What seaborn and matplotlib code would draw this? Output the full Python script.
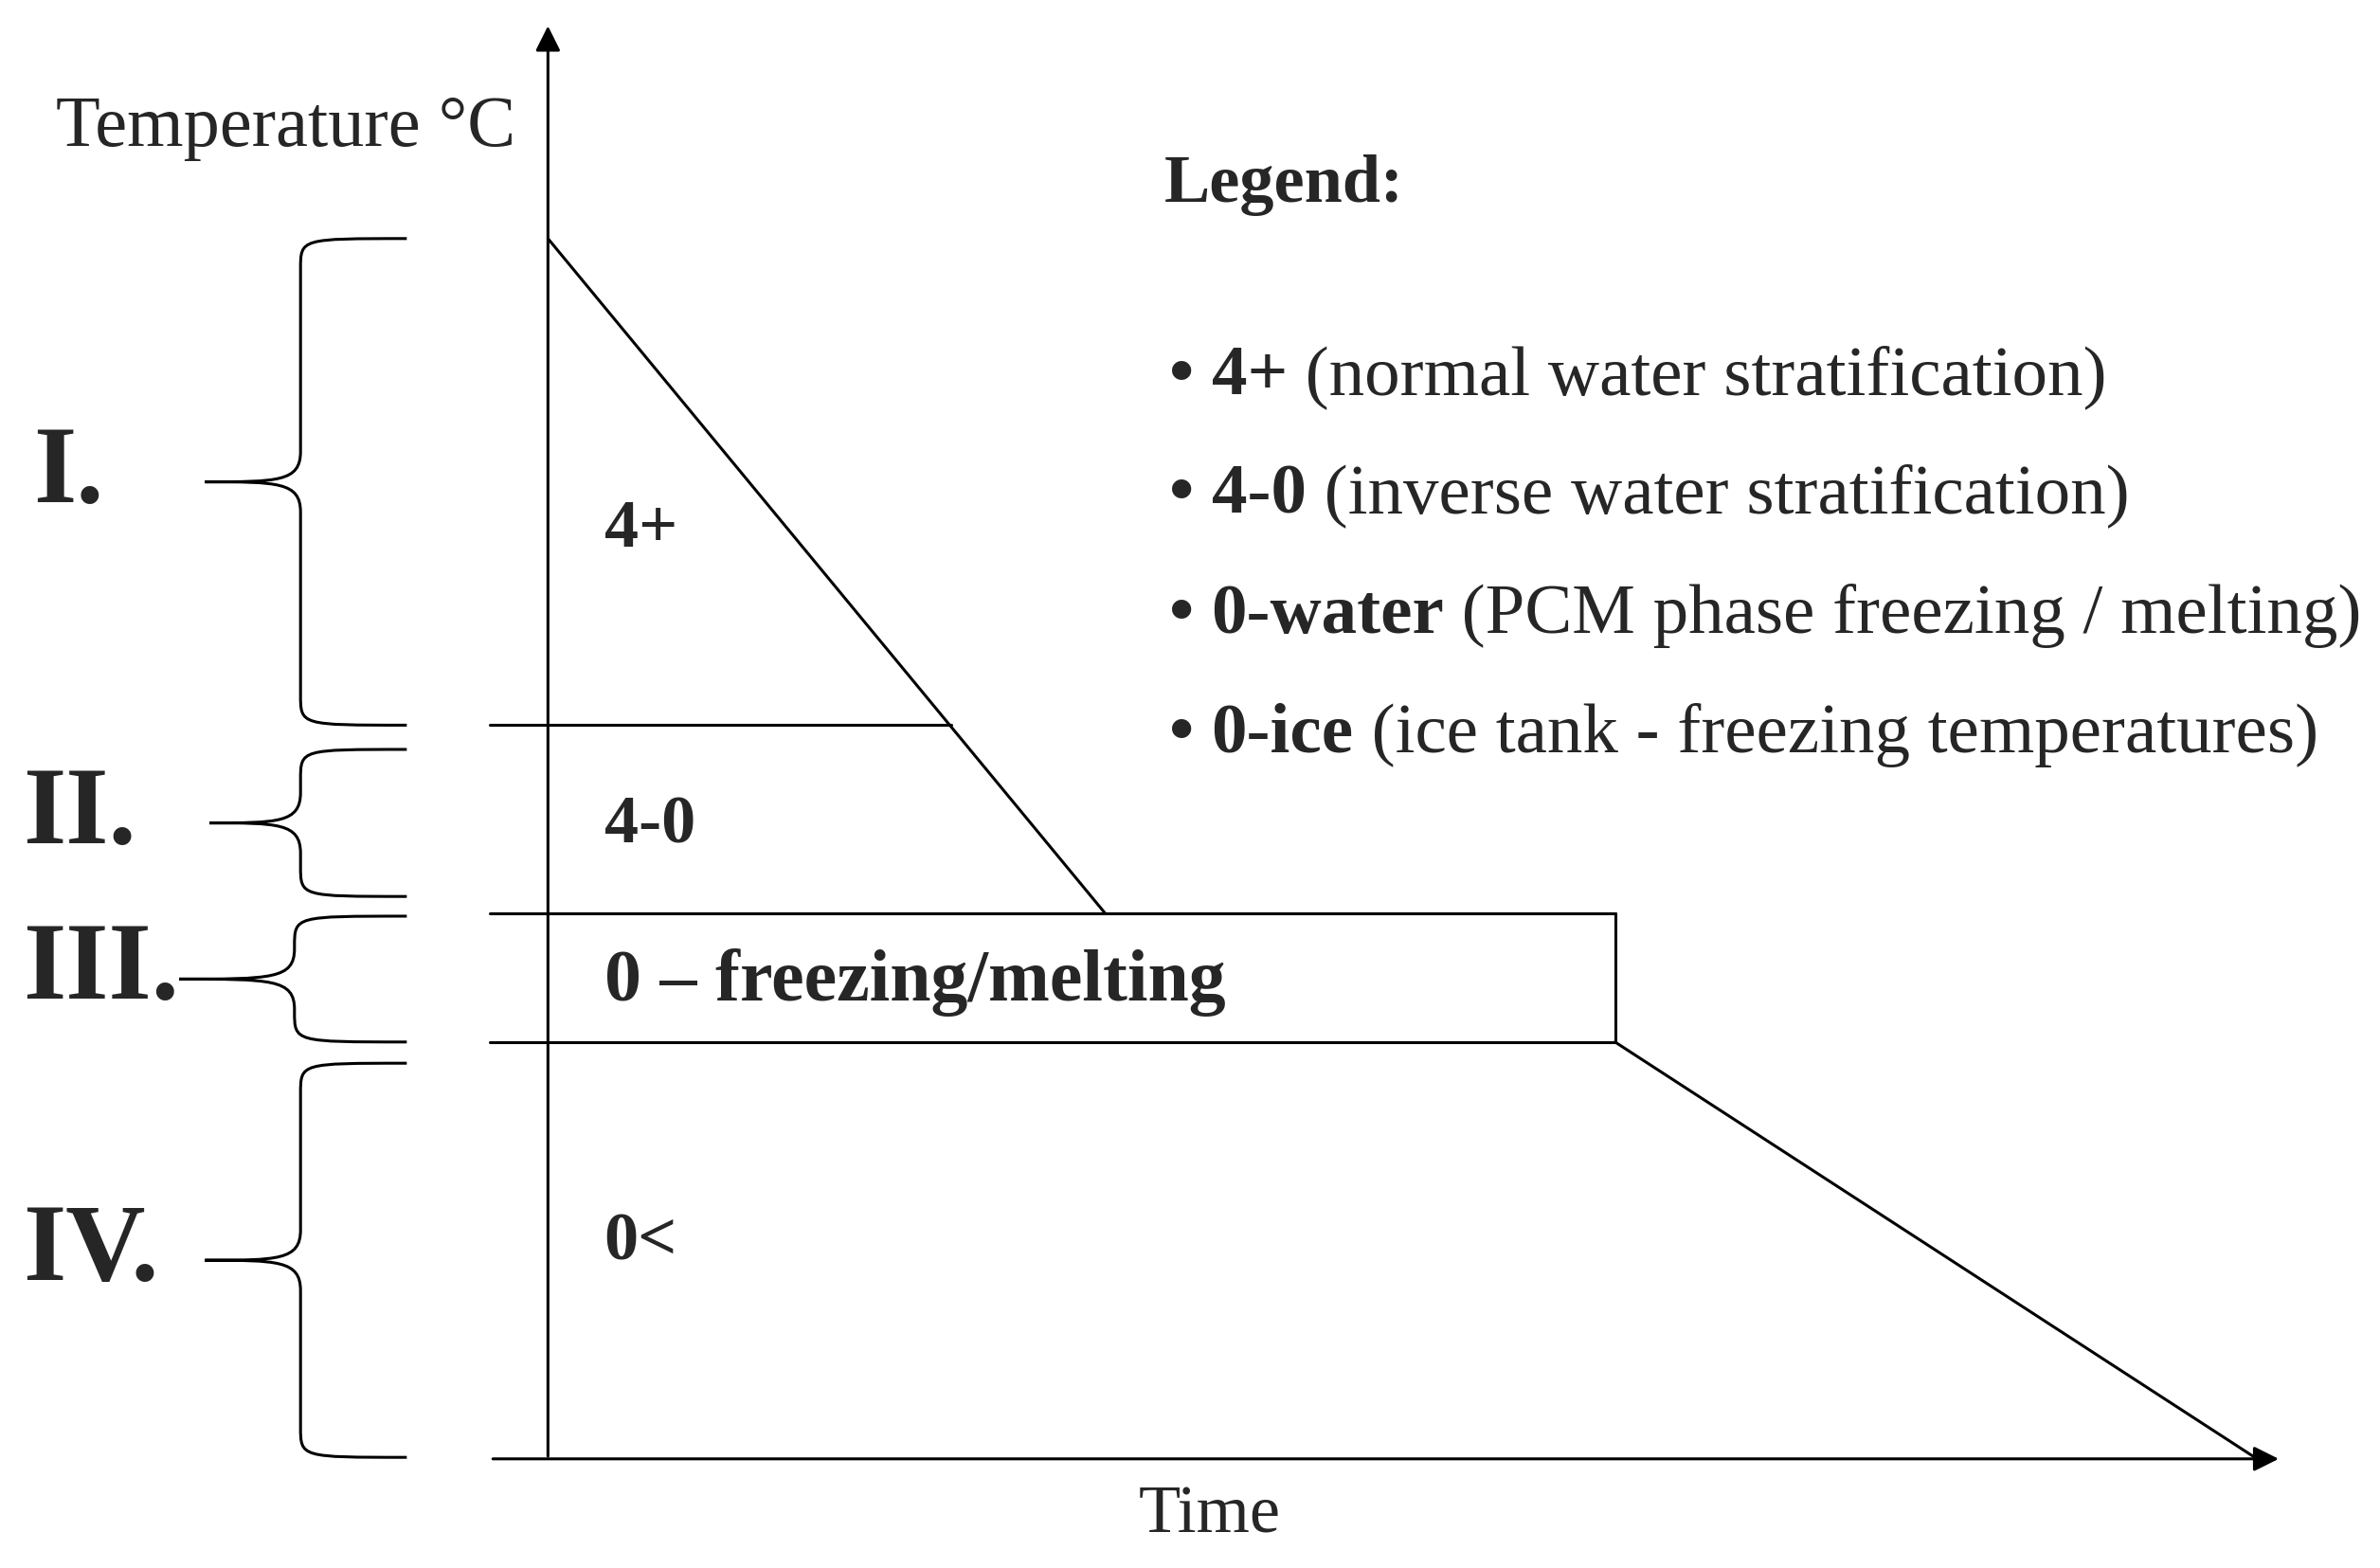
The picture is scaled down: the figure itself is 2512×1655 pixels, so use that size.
import matplotlib
matplotlib.use('Agg')
import matplotlib.pyplot as plt
import seaborn as sns
import pandas as pd
from matplotlib.path import Path
from matplotlib.patches import PathPatch, FancyArrowPatch

sns.set_theme(style='white')
plt.rcParams['font.family'] = ['Liberation Serif', 'DejaVu Serif']

# Diagram geometry in reference pixel units (x: time, y: temperature, inverted)
curve_time = [361, 728, 1064, 1487]
curve_temp = [158, 603, 688, 963]
band_levels = [479, 603, 688]
band_ends = [627, 1064, 1064]
band_start = 323

zone_labels = ['I.', 'II.', 'III.', 'IV.']
zone_top = [158, 495, 605, 702]
zone_bottom = [479, 592, 688, 962]
zone_tip_x = [135, 138, 118, 135]
zone_label_x = [22, 15, 15, 15]

region_labels = ['4+', '4-0', '0 \u2013 freezing/melting', '0<']
region_y = [350, 545, 648, 820]

legend_bold = ['4+', '4-0', '0-water', '0-ice']
legend_rest = [' (normal water stratification)', ' (inverse water stratification)',
               ' (PCM phase freezing / melting)', ' (ice tank - freezing temperatures)']
legend_y = [249, 327, 406, 485]

fig = plt.figure(figsize=(25.12, 16.56), dpi=100)
ax = fig.add_axes([0, 0, 1, 1])
ax.set_xlim(0, 1568)
ax.set_ylim(1035, 0)
ax.axis('off')
lw = 2.2

# main curve
sns.lineplot(data=pd.DataFrame({'t': curve_time[:2], 'T': curve_temp[:2]}), x='t', y='T',
             sort=False, color='black', lw=lw, ax=ax)
sns.lineplot(data=pd.DataFrame({'t': curve_time[2:], 'T': curve_temp[2:]}), x='t', y='T',
             sort=False, color='black', lw=lw, ax=ax)
for lvl, end in zip(band_levels, band_ends):
    ax.plot([band_start, end], [lvl, lvl], color='black', lw=lw)
ax.plot([1064, 1064], [603, 688], color='black', lw=lw)

# axes arrows
ax.add_patch(FancyArrowPatch((361, 963), (361, 16), arrowstyle='-|>', mutation_scale=40,
                             color='black', lw=lw))
ax.add_patch(FancyArrowPatch((323, 963), (1503, 963), arrowstyle='-|>', mutation_scale=40,
                             color='black', lw=lw))
ax.text(37, 85, 'Temperature °C', fontsize=55, va='center', ha='left')
ax.text(797, 1000, 'Time', fontsize=52, va='center', ha='center')


def brace(top, bottom, tip_x, xr, xm):
    tip_y = (top + bottom) / 2
    r = min(20, (bottom - top) / 4)
    verts = [(xr, top),
             (xm, top), (xm, top), (xm, top + r),
             (xm, tip_y - r),
             (xm, tip_y), (xm - 15, tip_y), (tip_x, tip_y),
             (xm - 15, tip_y), (xm, tip_y), (xm, tip_y + r),
             (xm, bottom - r),
             (xm, bottom), (xm, bottom), (xr, bottom)]
    codes = [Path.MOVETO,
             Path.CURVE4, Path.CURVE4, Path.CURVE4,
             Path.LINETO,
             Path.CURVE4, Path.CURVE4, Path.CURVE4,
             Path.CURVE4, Path.CURVE4, Path.CURVE4,
             Path.LINETO,
             Path.CURVE4, Path.CURVE4, Path.CURVE4]
    ax.add_patch(PathPatch(Path(verts, codes), fill=False, lw=lw, color='black'))


for lab, t, b, tx, lx in zip(zone_labels, zone_top, zone_bottom, zone_tip_x, zone_label_x):
    xm = 198 if lab != 'III.' else 194
    brace(t, b, tx, 268, xm)
    ax.text(lx, (t + b) / 2 - 5, lab, fontsize=84, fontweight='bold', va='center', ha='left')

for lab, y in zip(region_labels, region_y):
    ax.text(398, y, lab, fontsize=56 if 'freez' in lab else 52, fontweight='bold',
            va='center', ha='left')

ax.text(767, 122, 'Legend:', fontsize=52, fontweight='bold', va='center', ha='left')
for b, r, y in zip(legend_bold, legend_rest, legend_y):
    t = ax.text(770, y, '\u2022 ', fontsize=54, fontweight='bold', va='center', ha='left')
    t2 = ax.annotate(b, xycoords=t, xy=(1, 0.5), va='center', ha='left',
                     fontsize=54, fontweight='bold')
    ax.annotate(r, xycoords=t2, xy=(1, 0.5), va='center', ha='left', fontsize=54)

fig.savefig('out.png', dpi=100, facecolor='white')
